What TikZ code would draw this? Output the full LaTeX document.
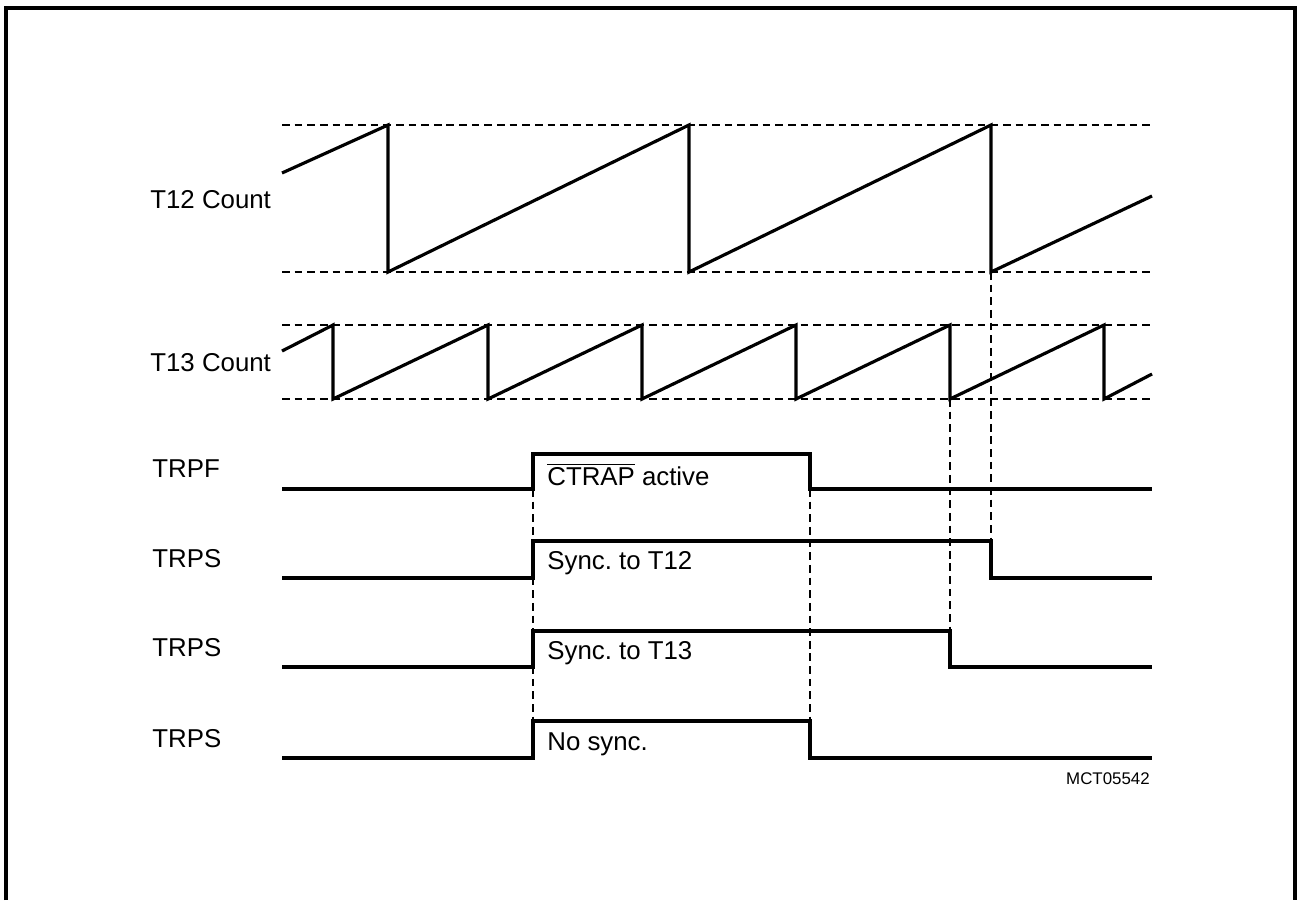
\documentclass[tikz,border=0pt]{standalone}
\usepackage{fontspec}
\setmainfont{Liberation Sans}
\frenchspacing
\begin{document}
\begin{tikzpicture}[x=0.02cm,y=-0.02cm,
  wave/.style={line width=1.8pt, line join=miter},
  guide/.style={line width=1.25pt, dash pattern=on 4.4pt off 2.8pt},
  lbl/.style={anchor=base west, inner sep=0pt, font=\fontsize{14.7}{17}\selectfont},
  tag/.style={anchor=base east, inner sep=0pt, font=\fontsize{9.6}{11}\selectfont},
  frame/.style={line width=1.8pt}]
\useasboundingbox (0,0) rectangle (1297,900);
\draw[frame] (6,900) -- (6,8) -- (1295,8) -- (1295,900);

% labels
\node[lbl] (l12) at (150,208) {T12 Count};
\node[lbl] (l13) at (150,371) {T13 Count};
\node[lbl] (lf) at (152,477) {TRPF};
\node[lbl] (ls1) at (152,567) {TRPS};
\node[lbl] (ls2) at (152,656) {TRPS};
\node[lbl] (ls3) at (152,747) {TRPS};

% T12 count
\draw[guide] (282,125) -- (1152,125);
\draw[guide] (282,272) -- (1152,272);
\draw[wave] (282,173) -- (388,125) -- (388,272) -- (689,125) -- (689,272)
  -- (991,125) -- (991,272) -- (1152,196);

% T13 count
\draw[guide] (282,325) -- (1152,325);
\draw[guide] (282,399) -- (1152,399);
\draw[wave] (282,351) -- (333,325) -- (333,399) -- (488,325) -- (488,399)
  -- (642,325) -- (642,399) -- (796,325) -- (796,399) -- (950,325) -- (950,399)
  -- (1104,325) -- (1104,399) -- (1152,374);

% coordinates for guides
\coordinate (fr) at (533,489);
\coordinate (ff) at (810,489);
\coordinate (nr) at (533,721);
\coordinate (nf) at (810,721);
\coordinate (t12z) at (991,272);
\coordinate (s1f) at (991,541);
\coordinate (t13z) at (950,399);
\coordinate (s2f) at (950,631);

\draw[guide] (fr) -- (nr);
\draw[guide] (ff) -- (nf);
\draw[guide] (t12z) -- (s1f);
\draw[guide] (t13z) -- (s2f);

% TRPF
\draw[wave] (282,489) -- (533,489) -- (533,454) -- (810,454) -- (810,489) -- (1152,489);
\node[lbl] (tf) at (547,485) {$\overline{\hbox{CTRAP}}$ active};
% TRPS sync T12
\draw[wave] (282,578) -- (533,578) -- (533,541) -- (991,541) -- (991,578) -- (1152,578);
\node[lbl] (t1) at (547,569) {Sync. to T12};
% TRPS sync T13
\draw[wave] (282,667) -- (533,667) -- (533,631) -- (950,631) -- (950,667) -- (1152,667);
\node[lbl] (t2) at (547,659) {Sync. to T13};
% TRPS no sync
\draw[wave] (282,758) -- (533,758) -- (533,721) -- (810,721) -- (810,758) -- (1152,758);
\node[lbl] (t3) at (547,750) {No sync.};

\node[tag] (id) at (1150,784) {MCT05542};
\end{tikzpicture}
\end{document}
